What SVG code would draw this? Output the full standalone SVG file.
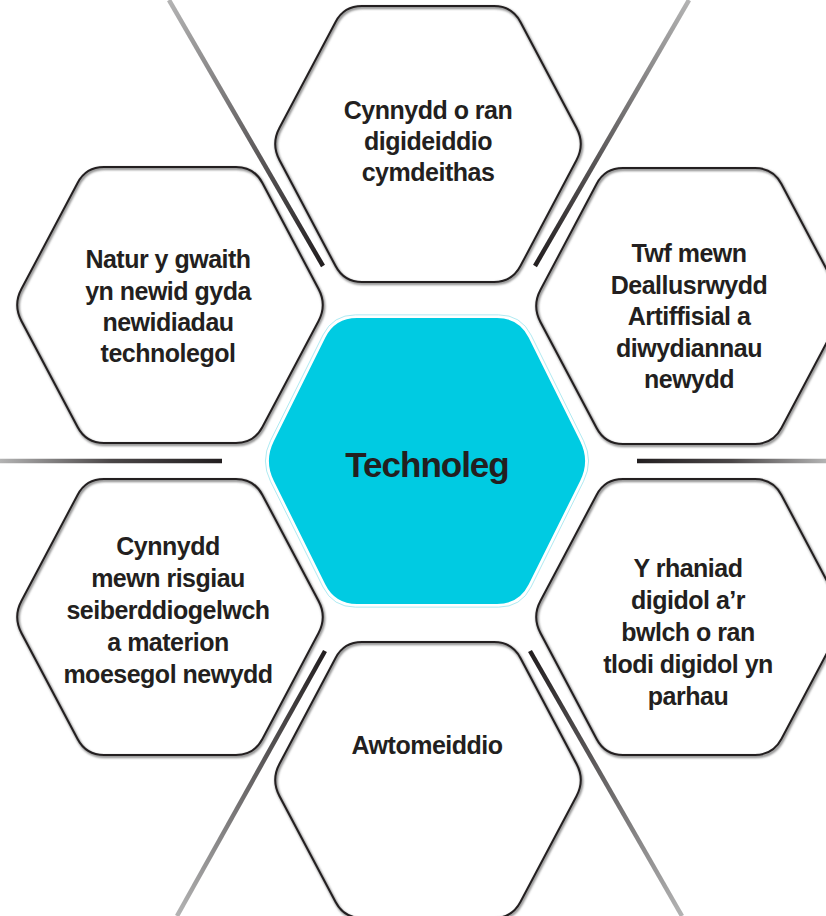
<svg xmlns="http://www.w3.org/2000/svg" width="826" height="916" viewBox="0 0 826 916">
<style>
.t{font-family:"Liberation Sans",Arial,sans-serif;font-weight:bold;font-size:25px;letter-spacing:-0.5px;fill:#231f20;text-anchor:middle}
.big{font-size:35px;letter-spacing:-1px}
.hexfill{fill:#ffffff}
.hexstroke{fill:none;stroke:#231f20;stroke-width:2}
.hexshadow{fill:none;stroke:#8a8a8a;stroke-width:3;filter:url(#blur)}
.ray{fill:none;stroke-width:4.5;stroke-linecap:butt}
</style>
<defs>
<filter id="blur" x="-10%" y="-10%" width="120%" height="120%"><feGaussianBlur stdDeviation="1.2"/></filter>
<path id="hex" d="M-148.58,-15.91 L-92.42,-122.09 Q-84,-138 -66,-138 L66,-138 Q84,-138 92.42,-122.09 L148.58,-15.91 Q157,0 148.58,15.91 L92.42,122.09 Q84,138 66,138 L-66,138 Q-84,138 -92.42,122.09 L-148.58,15.91 Q-157,0 -148.58,-15.91 Z"/>
<path id="chex" d="M-153.22,-19.71 L-101.78,-123.29 Q-92,-143 -70,-143 L70,-143 Q92,-143 101.78,-123.29 L153.22,-19.71 Q163,0 153.22,19.71 L101.78,123.29 Q92,143 70,143 L-70,143 Q-92,143 -101.78,123.29 L-153.22,19.71 Q-163,0 -153.22,-19.71 Z"/>
<linearGradient id="g1" gradientUnits="userSpaceOnUse" x1="169" y1="0" x2="323" y2="266"><stop offset="0" stop-color="#b3b3b3"/><stop offset="0.6" stop-color="#5a5758"/><stop offset="1" stop-color="#231f20"/></linearGradient>
<linearGradient id="g2" gradientUnits="userSpaceOnUse" x1="689" y1="0" x2="535" y2="266"><stop offset="0" stop-color="#b3b3b3"/><stop offset="0.6" stop-color="#5a5758"/><stop offset="1" stop-color="#231f20"/></linearGradient>
<linearGradient id="g3" gradientUnits="userSpaceOnUse" x1="826" y1="461" x2="637" y2="461"><stop offset="0" stop-color="#b3b3b3"/><stop offset="0.5" stop-color="#4a4647"/><stop offset="1" stop-color="#231f20"/></linearGradient>
<linearGradient id="g4" gradientUnits="userSpaceOnUse" x1="0" y1="461" x2="222" y2="461"><stop offset="0" stop-color="#b3b3b3"/><stop offset="0.5" stop-color="#4a4647"/><stop offset="1" stop-color="#231f20"/></linearGradient>
<linearGradient id="g5" gradientUnits="userSpaceOnUse" x1="177" y1="916" x2="325" y2="651"><stop offset="0" stop-color="#b3b3b3"/><stop offset="0.6" stop-color="#5a5758"/><stop offset="1" stop-color="#231f20"/></linearGradient>
<linearGradient id="g6" gradientUnits="userSpaceOnUse" x1="682" y1="916" x2="530" y2="651"><stop offset="0" stop-color="#b3b3b3"/><stop offset="0.6" stop-color="#5a5758"/><stop offset="1" stop-color="#231f20"/></linearGradient>
</defs>
<rect width="826" height="916" fill="#ffffff"/>
<g id="connectors">
<line class="ray" x1="169" y1="0" x2="323" y2="266" stroke="url(#g1)"/>
<line class="ray" x1="689" y1="0" x2="535" y2="266" stroke="url(#g2)"/>
<line class="ray" x1="637" y1="461" x2="826" y2="461" stroke="url(#g3)"/>
<line class="ray" x1="0" y1="461" x2="222" y2="461" stroke="url(#g4)"/>
<line class="ray" x1="325" y1="651" x2="177" y2="916" stroke="url(#g5)"/>
<line class="ray" x1="530" y1="651" x2="682" y2="916" stroke="url(#g6)"/>
</g>
<g id="node-top" transform="translate(428,144)">
<use href="#hex" class="hexfill"/><use href="#hex" class="hexshadow" transform="translate(1,1.5)"/><use href="#hex" class="hexstroke"/>
<text class="t" x="0" y="-25">Cynnydd o ran</text>
<text class="t" x="0" y="6">digideiddio</text>
<text class="t" x="0" y="37">cymdeithas</text>
</g>
<g id="node-topleft" transform="translate(170,305)">
<use href="#hex" class="hexfill"/><use href="#hex" class="hexshadow" transform="translate(1,1.5)"/><use href="#hex" class="hexstroke"/>
<text class="t" x="-2" y="-37">Natur y gwaith</text>
<text class="t" x="-2" y="-5">yn newid gyda</text>
<text class="t" x="-2" y="26">newidiadau</text>
<text class="t" x="-2" y="57">technolegol</text>
</g>
<g id="node-topright" transform="translate(689,306)">
<use href="#hex" class="hexfill"/><use href="#hex" class="hexshadow" transform="translate(1,1.5)"/><use href="#hex" class="hexstroke"/>
<text class="t" x="0" y="-44">Twf mewn</text>
<text class="t" x="0" y="-12.5">Deallusrwydd</text>
<text class="t" x="0" y="19">Artiffisial a</text>
<text class="t" x="0" y="50.5">diwydiannau</text>
<text class="t" x="0" y="82">newydd</text>
</g>
<g id="node-bottomleft" transform="translate(170,617)">
<use href="#hex" class="hexfill"/><use href="#hex" class="hexshadow" transform="translate(1,1.5)"/><use href="#hex" class="hexstroke"/>
<text class="t" x="-2" y="-62">Cynnydd</text>
<text class="t" x="-2" y="-30">mewn risgiau</text>
<text class="t" x="-2" y="2">seiberddiogelwch</text>
<text class="t" x="-2" y="34">a materion</text>
<text class="t" x="-2" y="66">moesegol newydd</text>
</g>
<g id="node-bottomright" transform="translate(689,617)">
<use href="#hex" class="hexfill"/><use href="#hex" class="hexshadow" transform="translate(1,1.5)"/><use href="#hex" class="hexstroke"/>
<text class="t" x="-1" y="-40">Y rhaniad</text>
<text class="t" x="-1" y="-8">digidol a’r</text>
<text class="t" x="-1" y="24">bwlch o ran</text>
<text class="t" x="-1" y="56">tlodi digidol yn</text>
<text class="t" x="-1" y="88">parhau</text>
</g>
<g id="node-bottom" transform="translate(428,780)">
<use href="#hex" class="hexfill"/><use href="#hex" class="hexshadow" transform="translate(1,1.5)"/><use href="#hex" class="hexstroke"/>
<text class="t" x="-1" y="-26">Awtomeiddio</text>
</g>
<g id="node-center" transform="translate(427,461)">
<use href="#chex" transform="scale(1.022)" fill="#ffffff" stroke="#a8e8f1" stroke-width="0.9"/>
<use href="#chex" fill="#00cbe2"/>
<text class="t big" x="0" y="16">Technoleg</text>
</g>
</svg>
